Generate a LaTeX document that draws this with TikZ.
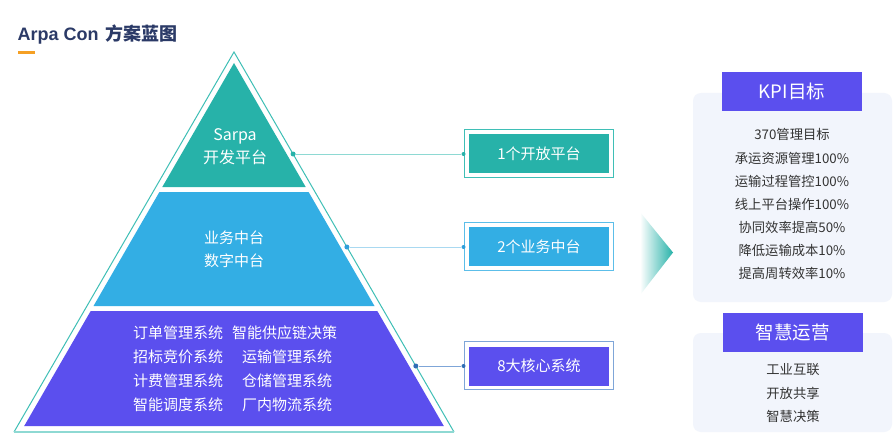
\documentclass[tikz,border=0pt]{standalone}
\usepackage{fontspec}
\setmainfont{Noto Sans CJK SC}
\newfontfamily\latinB{Liberation Sans}
\definecolor{tealA}{HTML}{27B2A9}
\definecolor{tealLine}{HTML}{3FBFB6}
\definecolor{tealLight}{HTML}{8ED9D3}
\definecolor{blueA}{HTML}{33AEE4}
\definecolor{blueLine}{HTML}{A9D9F1}
\definecolor{blueDot}{HTML}{2E9FDA}
\definecolor{purpA}{HTML}{5B4FEE}
\definecolor{purpLine}{HTML}{7FA6D8}
\definecolor{purpDot}{HTML}{2F6DB5}
\definecolor{navy}{HTML}{2B3A67}
\definecolor{orng}{HTML}{F5A024}
\definecolor{panel}{HTML}{F2F5FC}
\definecolor{txt}{HTML}{333333}
\tikzset{
  ptext/.style={text=white,font=\fontsize{15}{18}\selectfont,inner sep=0pt},
  pleft/.style={ptext,anchor=west},
  boxouter/.style={draw=#1,line width=1pt,fill=white,minimum width=149pt,minimum height=48pt,inner sep=0pt},
  boxinner/.style={fill=#1,minimum width=140pt,minimum height=39pt,inner sep=0pt,text=white,font=\fontsize{15}{18}\selectfont},
  hdr/.style={fill=purpA,minimum width=140pt,minimum height=39pt,inner sep=0pt,text=white,font=\fontsize{18.5}{22}\selectfont},
  item/.style={text=txt,font=\fontsize{13.3}{15}\selectfont,inner sep=0pt},
  panelbox/.style={fill=panel,rounded corners=8pt},
  dotmark/.style={circle,fill=#1,inner sep=0pt,minimum size=5pt},
}
\begin{document}
\begin{tikzpicture}[x=1pt,y=-1pt]
\useasboundingbox[fill=white] (0,0) rectangle (893,433);
% title
\node[anchor=west,inner sep=0pt,text=navy,font=\bfseries\fontsize{18}{22}\selectfont] (title) at (17.5,35) {{\latinB\bfseries Arpa Con}\hspace{7pt}方案蓝图};
\fill[orng] (18,51.5) rectangle (35,54.5);
% outer triangle outline
\draw[tealLine,line width=1pt] (14,432) -- (234,52) -- (454,432);
\draw[tealLight,line width=2pt] (14,431.5) -- (454,431.5);
% layers
\fill[tealA] (234,63) -- (305.7,187) -- (162.3,187) -- cycle;
\fill[blueA] (159.4,192) -- (308.6,192) -- (374.5,306) -- (93.5,306) -- cycle;
\fill[purpA] (90.7,311) -- (377.3,311) -- (443.8,426) -- (24.2,426) -- cycle;
% layer texts
\node[ptext,font=\fontsize{16}{19}\selectfont] (sarpa) at (235,136) {Sarpa};
\node[ptext,font=\fontsize{16}{19}\selectfont] (kaifa) at (235,157) {开发平台};
\node[ptext] (yewu) at (234,238) {业务中台};
\node[ptext] (shuzi) at (234,261) {数字中台};
\node[pleft] (r1a) at (133,333) {订单管理系统};
\node[pleft] (r1b) at (232,333) {智能供应链决策};
\node[pleft] (r2a) at (133,357) {招标竞价系统};
\node[pleft] (r2b) at (242,357) {运输管理系统};
\node[pleft] (r3a) at (133,381) {计费管理系统};
\node[pleft] (r3b) at (242,381) {仓储管理系统};
\node[pleft] (r4a) at (133,405) {智能调度系统};
\node[pleft] (r4b) at (242,405) {厂内物流系统};
% boxes
\node[boxouter=tealLine] (b1) at (538.5,153) {};
\node[boxinner=tealA] (b1i) at (539,153.5) {1个开放平台};
\node[boxouter=blueA!80] (b2) at (538.5,246) {};
\node[boxinner=blueA] (b2i) at (539,246.5) {2个业务中台};
\node[boxouter=purpLine] (b3) at (538.5,365.5) {};
\node[boxinner=purpA] (b3i) at (539,366) {8大核心系统};
% connectors
\node[dotmark=tealA] (d1) at (293.1,154) {};
\node[dotmark=blueDot] (d2) at (346.9,247) {};
\node[dotmark=purpDot] (d3) at (415.8,366) {};
\node[dotmark=tealA,minimum size=4pt] (e1) at (b1.west |- d1) {};
\node[dotmark=blueDot,minimum size=4pt] (e2) at (b2.west |- d2) {};
\node[dotmark=purpDot,minimum size=4pt] (e3) at (b3.west |- d3) {};
\draw[tealLight,line width=1pt] (d1) -- (e1);
\draw[blueLine,line width=1pt] (d2) -- (e2);
\draw[purpLine,line width=1pt] (d3) -- (e3);
% arrow
\shade[left color=white,right color=tealA] (640,212) -- (673,252.5) -- (640,295) -- cycle;
% KPI panel
\fill[panelbox] (693,93) rectangle (892,302);
\node[hdr] (kpi) at (792,91.5) {KPI目标};
\node[item] (k1) at (792,134) {370管理目标};
\node[item] (k2) at (792,158) {承运资源管理100\%};
\node[item] (k3) at (792,181) {运输过程管控100\%};
\node[item] (k4) at (792,204) {线上平台操作100\%};
\node[item] (k5) at (792,227) {协同效率提高50\%};
\node[item] (k6) at (792,250) {降低运输成本10\%};
\node[item] (k7) at (792,273) {提高周转效率10\%};
% operations panel
\fill[panelbox] (693,333) rectangle (892,432);
\node[hdr] (ops) at (792.5,332.5) {智慧运营};
\node[item] (o1) at (793,370) {工业互联};
\node[item] (o2) at (793,393) {开放共享};
\node[item] (o3) at (793,416) {智慧决策};
\end{tikzpicture}
\end{document}
